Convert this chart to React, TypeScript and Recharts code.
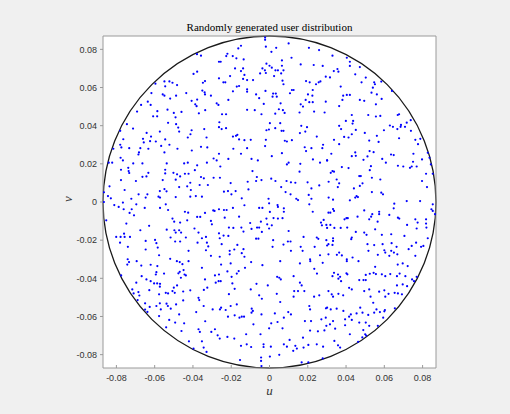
import React from "react";
import {
  ScatterChart,
  Scatter,
  XAxis,
  YAxis,
  CartesianGrid,
  ReferenceArea,
} from "recharts";

const chartTitle = "Randomly generated user distribution";
const cellRadius = 0.087;
const tickValues = [-0.08, -0.06, -0.04, -0.02, 0, 0.02, 0.04, 0.06, 0.08];

// user positions [u, v], upper band
const usersTop: [number, number][] = [
  [-0.0379,0.0775],[-0.0358,0.0767],[-0.0397,0.0671],[-0.0378,0.0683],[-0.0596,0.0620],[-0.0549,0.0632],[-0.0523,0.0632],[-0.0507,0.0625],[-0.0483,0.0613],[-0.0545,0.0606],[-0.0337,0.0634],[-0.0348,0.0625],[-0.0617,0.0571],[-0.0558,0.0564],[-0.0549,0.0557],[-0.0488,0.0557],[-0.0519,0.0542],[-0.0435,0.0571],[-0.0407,0.0530],[-0.0388,0.0512],[-0.0378,0.0537],[-0.0381,0.0502],[-0.0351,0.0584],[-0.0339,0.0575],[-0.0337,0.0564],[-0.0306,0.0557],[-0.0636,0.0526],[-0.0621,0.0509],[-0.0671,0.0509],[-0.0692,0.0474],[-0.0608,0.0449],[-0.0587,0.0449],[-0.0586,0.0476],[-0.0533,0.0484],[-0.0500,0.0467],[-0.0491,0.0444],[-0.0460,0.0472],[-0.0336,0.0481],[-0.0369,0.0465],[-0.0745,0.0408],[-0.0713,0.0385],[-0.0780,0.0373],[-0.0642,0.0362],[-0.0619,0.0343],[-0.0573,0.0369],[-0.0530,0.0415],[-0.0488,0.0408],[-0.0477,0.0390],[-0.0472,0.0369],[-0.0427,0.0338],[-0.0413,0.0355],[-0.0407,0.0376],[-0.0341,0.0382],[-0.0329,0.0338],[-0.0764,0.0329],[-0.0661,0.0331],[-0.0657,0.0312],[-0.0624,0.0319],[-0.0594,0.0317],[-0.0545,0.0328],[-0.0566,0.0294],[-0.0523,0.0300],[-0.0780,0.0300],[-0.0774,0.0286],[-0.0816,0.0279],[-0.0733,0.0282],[-0.0675,0.0282],[-0.0633,0.0279],[-0.0481,0.0279],[-0.0358,0.0289],[-0.0325,0.0286],
  [-0.0023,0.0862],[-0.0023,0.0850],[-0.0163,0.0805],[-0.0149,0.0819],[-0.0220,0.0777],[-0.0226,0.0765],[-0.0192,0.0765],[-0.0264,0.0735],[-0.0255,0.0735],[-0.0173,0.0753],[-0.0135,0.0747],[-0.0019,0.0814],[0.0010,0.0787],[0.0035,0.0808],[0.0100,0.0831],[0.0206,0.0808],[0.0259,0.0796],[0.0115,0.0756],[0.0065,0.0742],[-0.0016,0.0725],[0.0000,0.0714],[0.0012,0.0704],[0.0031,0.0690],[0.0044,0.0690],[0.0024,0.0660],[0.0065,0.0714],[0.0073,0.0690],[0.0061,0.0674],[0.0163,0.0721],[0.0231,0.0718],[0.0278,0.0713],[-0.0037,0.0700],[-0.0024,0.0690],[-0.0019,0.0676],[-0.0049,0.0674],[-0.0138,0.0700],[-0.0149,0.0686],[-0.0131,0.0666],[-0.0180,0.0700],[-0.0206,0.0660],[-0.0264,0.0648],[-0.0241,0.0627],[-0.0231,0.0627],[-0.0138,0.0645],[-0.0117,0.0639],[-0.0086,0.0639],[0.0068,0.0636],[0.0073,0.0617],[0.0117,0.0587],[0.0126,0.0587],[0.0191,0.0634],[0.0210,0.0627],[0.0243,0.0617],[0.0257,0.0627],[0.0266,0.0632],[-0.0171,0.0605],[-0.0159,0.0608],[-0.0191,0.0580],[-0.0117,0.0591],[-0.0117,0.0578],[-0.0070,0.0564],[-0.0021,0.0582],[0.0019,0.0568],[0.0033,0.0568],[0.0016,0.0552],[0.0038,0.0552],[0.0107,0.0570],[0.0226,0.0587],[0.0201,0.0564],[0.0224,0.0557],[0.0189,0.0535],[0.0208,0.0523],[0.0226,0.0523],[0.0175,0.0500],[0.0163,0.0512],[0.0157,0.0469],[-0.0054,0.0544],[-0.0030,0.0514],[0.0058,0.0517],[-0.0276,0.0517],[-0.0267,0.0509],[-0.0215,0.0535],[-0.0117,0.0483],[-0.0077,0.0481],[-0.0042,0.0460],[0.0030,0.0463],[0.0049,0.0486],[0.0070,0.0481],[0.0079,0.0467],[-0.0248,0.0460],[-0.0227,0.0460],[0.0233,0.0474],[0.0288,0.0469],[-0.0262,0.0418],[-0.0264,0.0392],[-0.0250,0.0382],[-0.0227,0.0387],[0.0002,0.0413],[0.0030,0.0387],[0.0056,0.0413],[0.0073,0.0373],[0.0063,0.0373],[-0.0016,0.0376],[-0.0003,0.0380],[-0.0168,0.0352],[-0.0175,0.0347],[-0.0191,0.0343],[-0.0159,0.0328],[-0.0131,0.0324],[-0.0098,0.0326],[-0.0019,0.0326],[0.0080,0.0321],[0.0117,0.0324],[0.0091,0.0317],[0.0159,0.0361],[0.0166,0.0399],[0.0196,0.0392],[0.0187,0.0369],[0.0247,0.0343],[0.0184,0.0287],[0.0219,0.0282],[0.0276,0.0282],[0.0280,0.0300],[-0.0189,0.0279],[-0.0117,0.0282],[-0.0023,0.0293],
  [0.0329,0.0767],[0.0294,0.0657],[0.0316,0.0653],[0.0336,0.0686],[0.0355,0.0697],[0.0360,0.0683],[0.0404,0.0756],[0.0420,0.0735],[0.0420,0.0713],[0.0472,0.0707],[0.0448,0.0669],[0.0503,0.0652],[0.0481,0.0627],[0.0547,0.0627],[0.0551,0.0617],[0.0540,0.0599],[0.0584,0.0631],[0.0372,0.0605],[0.0640,0.0582],[0.0533,0.0573],[0.0561,0.0564],[0.0404,0.0561],[0.0420,0.0561],[0.0385,0.0557],[0.0381,0.0535],[0.0294,0.0526],[0.0472,0.0535],[0.0495,0.0530],[0.0556,0.0512],[0.0586,0.0540],[0.0364,0.0503],[0.0430,0.0456],[0.0516,0.0456],[0.0556,0.0448],[0.0579,0.0451],[0.0670,0.0456],[0.0677,0.0460],[0.0399,0.0425],[0.0437,0.0425],[0.0434,0.0411],[0.0364,0.0399],[0.0374,0.0382],[0.0451,0.0378],[0.0498,0.0362],[0.0561,0.0347],[0.0598,0.0376],[0.0570,0.0315],[0.0629,0.0401],[0.0645,0.0394],[0.0687,0.0404],[0.0685,0.0394],[0.0708,0.0394],[0.0717,0.0416],[0.0738,0.0429],[0.0668,0.0382],[0.0677,0.0334],[0.0739,0.0373],[0.0762,0.0326],[0.0788,0.0331],[0.0776,0.0303],[0.0337,0.0326],[0.0364,0.0303],[0.0390,0.0341],[0.0413,0.0338],[0.0430,0.0355],[0.0521,0.0322],
];

// middle band
const usersMiddle: [number, number][] = [
  [-0.0682,0.0260],[-0.0685,0.0249],[-0.0549,0.0260],[-0.0406,0.0270],[-0.0778,0.0232],[-0.0766,0.0218],[-0.0840,0.0206],[-0.0822,0.0206],[-0.0712,0.0202],[-0.0664,0.0202],[-0.0537,0.0202],[-0.0446,0.0202],[-0.0427,0.0206],[-0.0378,0.0192],[-0.0327,0.0206],[-0.0776,0.0169],[-0.0738,0.0179],[-0.0736,0.0162],[-0.0733,0.0152],[-0.0633,0.0153],[-0.0643,0.0134],[-0.0664,0.0132],[-0.0545,0.0169],[-0.0545,0.0150],[-0.0502,0.0153],[-0.0483,0.0145],[-0.0442,0.0148],[-0.0423,0.0148],[-0.0390,0.0167],[-0.0358,0.0131],[-0.0776,0.0115],[-0.0698,0.0110],[-0.0558,0.0115],[-0.0490,0.0117],[-0.0467,0.0134],[-0.0414,0.0101],[-0.0343,0.0124],[-0.0836,0.0082],[-0.0757,0.0063],[-0.0684,0.0040],[-0.0638,0.0040],[-0.0573,0.0057],[-0.0549,0.0068],[-0.0538,0.0056],[-0.0472,0.0078],[-0.0430,0.0082],[-0.0411,0.0063],[-0.0365,0.0089],[-0.0322,0.0089],[-0.0865,0.0051],[-0.0844,0.0031],[-0.0829,0.0019],[-0.0722,0.0017],[-0.0647,0.0023],[-0.0580,0.0028],[-0.0572,0.0023],[-0.0490,0.0026],[-0.0414,0.0028],[-0.0385,0.0031],[-0.0353,0.0028],[-0.0865,0.0000],[-0.0811,-0.0016],[-0.0788,-0.0026],[-0.0766,-0.0003],[-0.0696,-0.0012],[-0.0652,-0.0031],[-0.0762,-0.0038],[-0.0720,-0.0038],[-0.0731,-0.0057],[-0.0708,-0.0070],[-0.0572,-0.0031],[-0.0542,-0.0012],[-0.0530,-0.0042],[-0.0442,-0.0051],[-0.0425,-0.0056],[-0.0378,-0.0078],[-0.0362,-0.0078],[-0.0337,-0.0057],[-0.0294,-0.0044],[-0.0853,-0.0096],[-0.0748,-0.0113],[-0.0675,-0.0148],[-0.0629,-0.0125],[-0.0537,-0.0145],[-0.0507,-0.0087],[-0.0498,-0.0103],[-0.0467,-0.0108],[-0.0430,-0.0096],[-0.0392,-0.0139],[-0.0497,-0.0148],[-0.0490,-0.0160],[-0.0472,-0.0148],[-0.0462,-0.0160],[-0.0801,-0.0183],[-0.0778,-0.0183],[-0.0760,-0.0166],[-0.0757,-0.0183],[-0.0729,-0.0183],[-0.0781,-0.0213],[-0.0647,-0.0204],[-0.0598,-0.0199],[-0.0591,-0.0216],[-0.0584,-0.0239],[-0.0517,-0.0186],[-0.0493,-0.0207],[-0.0467,-0.0207],[-0.0437,-0.0186],[-0.0371,-0.0160],[-0.0353,-0.0190],[-0.0332,-0.0183],[-0.0327,-0.0213],[-0.0320,-0.0233],[-0.0376,-0.0213],[-0.0740,-0.0235],[-0.0741,-0.0300],[-0.0647,-0.0249],[-0.0577,-0.0279],[-0.0519,-0.0298],[-0.0423,-0.0256],[-0.0332,-0.0253],[-0.0306,-0.0282],[-0.0301,-0.0117],[-0.0306,-0.0099],
  [-0.0149,0.0253],[-0.0264,0.0253],[-0.0292,0.0228],[-0.0276,0.0218],[-0.0215,0.0226],[-0.0257,0.0186],[-0.0094,0.0226],[-0.0061,0.0218],[0.0012,0.0240],[0.0065,0.0256],[0.0091,0.0197],[0.0100,0.0206],[0.0161,0.0200],[0.0191,0.0267],[0.0227,0.0223],[0.0264,0.0206],[0.0301,0.0218],[0.0157,0.0159],[-0.0089,0.0162],[-0.0292,0.0127],[-0.0259,0.0127],[-0.0066,0.0131],[-0.0070,0.0110],[-0.0042,0.0115],[0.0009,0.0122],[0.0031,0.0110],[-0.0114,0.0106],[-0.0203,0.0099],[-0.0238,0.0054],[-0.0217,0.0057],[-0.0199,0.0040],[-0.0177,0.0057],[-0.0110,0.0066],[0.0089,0.0110],[0.0112,0.0103],[0.0135,0.0101],[0.0199,0.0103],[0.0219,0.0071],[0.0260,0.0087],[0.0061,0.0078],[0.0084,0.0052],[0.0110,0.0040],[0.0140,0.0017],[0.0149,0.0010],[0.0205,0.0037],[0.0219,0.0017],[-0.0145,0.0019],[-0.0005,0.0017],[-0.0002,-0.0007],[-0.0054,-0.0031],[-0.0037,-0.0031],[-0.0264,-0.0038],[-0.0238,-0.0042],[-0.0224,-0.0042],[-0.0287,-0.0047],[-0.0191,-0.0031],[-0.0131,-0.0017],[0.0002,-0.0052],[0.0042,-0.0016],[0.0044,-0.0026],[0.0075,-0.0033],[0.0075,-0.0051],[0.0208,-0.0012],[0.0226,-0.0051],[-0.0159,-0.0077],[-0.0234,-0.0082],[-0.0101,-0.0110],[-0.0094,-0.0141],[-0.0045,-0.0103],[-0.0016,-0.0087],[0.0021,-0.0084],[0.0044,-0.0087],[0.0068,-0.0085],[-0.0065,-0.0134],[-0.0054,-0.0134],[-0.0040,-0.0157],[-0.0012,-0.0117],[-0.0002,-0.0139],[0.0012,-0.0122],[0.0283,-0.0094],[0.0269,-0.0108],[0.0274,-0.0122],[0.0301,-0.0136],[-0.0212,-0.0134],[-0.0189,-0.0136],[-0.0147,-0.0134],[-0.0136,-0.0155],[-0.0264,-0.0164],[-0.0240,-0.0176],[-0.0215,-0.0178],[-0.0260,-0.0190],[-0.0070,-0.0192],[-0.0058,-0.0192],[0.0019,-0.0200],[0.0100,-0.0152],[0.0178,-0.0183],[0.0247,-0.0186],[0.0255,-0.0193],[0.0301,-0.0228],[-0.0250,-0.0221],[-0.0168,-0.0225],[-0.0136,-0.0247],[-0.0184,-0.0249],[-0.0145,-0.0268],[-0.0131,-0.0287],[-0.0208,-0.0256],[-0.0208,-0.0274],[-0.0260,-0.0287],[0.0016,-0.0235],[0.0073,-0.0223],[0.0096,-0.0207],[0.0110,-0.0207],[0.0163,-0.0235],[0.0173,-0.0256],[0.0112,-0.0256],[0.0236,-0.0235],[0.0212,-0.0300],[0.0264,-0.0279],
  [0.0323,0.0253],[0.0430,0.0240],[0.0448,0.0260],[0.0451,0.0242],[0.0512,0.0239],[0.0523,0.0267],[0.0544,0.0261],[0.0635,0.0249],[0.0649,0.0246],[0.0752,0.0253],[0.0827,0.0258],[0.0836,0.0232],[0.0491,0.0221],[0.0589,0.0226],[0.0608,0.0206],[0.0671,0.0190],[0.0699,0.0186],[0.0734,0.0179],[0.0743,0.0186],[0.0750,0.0211],[0.0769,0.0186],[0.0797,0.0223],[0.0843,0.0197],[0.0301,0.0218],[0.0329,0.0162],[0.0320,0.0153],[0.0337,0.0159],[0.0378,0.0183],[0.0413,0.0178],[0.0530,0.0188],[0.0524,0.0167],[0.0818,0.0148],[0.0853,0.0148],[0.0351,0.0118],[0.0364,0.0098],[0.0309,0.0106],[0.0357,0.0078],[0.0469,0.0136],[0.0477,0.0136],[0.0486,0.0098],[0.0472,0.0084],[0.0535,0.0127],[0.0579,0.0118],[0.0797,0.0110],[0.0823,0.0078],[0.0441,0.0071],[0.0535,0.0052],[0.0584,0.0049],[0.0593,0.0040],[0.0309,0.0023],[0.0332,0.0012],[0.0420,0.0009],[0.0448,0.0023],[0.0455,0.0031],[0.0462,0.0026],[0.0717,0.0005],[0.0787,0.0005],[0.0652,-0.0009],[0.0649,-0.0033],[0.0853,-0.0012],[0.0846,-0.0038],[0.0853,-0.0047],[0.0865,-0.0064],[0.0332,-0.0037],[0.0337,-0.0047],[0.0308,-0.0056],[0.0318,-0.0056],[0.0495,-0.0044],[0.0573,-0.0051],[0.0573,-0.0064],[0.0537,-0.0064],[0.0521,-0.0091],[0.0531,-0.0077],[0.0626,-0.0068],[0.0671,-0.0082],[0.0678,-0.0087],[0.0392,-0.0091],[0.0402,-0.0085],[0.0409,-0.0085],[0.0460,-0.0077],[0.0762,-0.0091],[0.0818,-0.0091],[0.0297,-0.0120],[0.0318,-0.0120],[0.0339,-0.0136],[0.0372,-0.0136],[0.0406,-0.0134],[0.0451,-0.0157],[0.0495,-0.0160],[0.0552,-0.0143],[0.0565,-0.0103],[0.0719,-0.0120],[0.0774,-0.0108],[0.0769,-0.0139],[0.0818,-0.0113],[0.0820,-0.0134],[0.0507,-0.0172],[0.0587,-0.0172],[0.0636,-0.0169],[0.0705,-0.0178],[0.0332,-0.0190],[0.0297,-0.0200],[0.0332,-0.0204],[0.0430,-0.0186],[0.0427,-0.0195],[0.0329,-0.0225],[0.0308,-0.0221],[0.0512,-0.0221],[0.0547,-0.0226],[0.0591,-0.0221],[0.0638,-0.0216],[0.0664,-0.0235],[0.0636,-0.0256],[0.0600,-0.0253],[0.0605,-0.0265],[0.0626,-0.0282],[0.0650,-0.0265],[0.0668,-0.0274],[0.0517,-0.0256],[0.0566,-0.0277],[0.0727,-0.0247],[0.0743,-0.0230],[0.0766,-0.0213],[0.0792,-0.0235],[0.0804,-0.0230],[0.0827,-0.0190],[0.0762,-0.0282],[0.0364,-0.0265],[0.0352,-0.0277],[0.0378,-0.0280],[0.0434,-0.0291],[0.0404,-0.0300],[0.0308,-0.0274],
];

// lower band
const usersBottom: [number, number][] = [
  [-0.0734,-0.0315],[-0.0743,-0.0328],[-0.0694,-0.0310],[-0.0621,-0.0329],[-0.0586,-0.0336],[-0.0670,-0.0333],[-0.0469,-0.0315],[-0.0484,-0.0310],[-0.0455,-0.0326],[-0.0353,-0.0345],[-0.0423,-0.0310],[-0.0775,-0.0385],[-0.0469,-0.0366],[-0.0476,-0.0374],[-0.0449,-0.0357],[-0.0444,-0.0380],[-0.0591,-0.0368],[-0.0594,-0.0380],[-0.0551,-0.0375],[-0.0668,-0.0389],[-0.0696,-0.0423],[-0.0643,-0.0406],[-0.0621,-0.0415],[-0.0603,-0.0427],[-0.0587,-0.0427],[-0.0572,-0.0429],[-0.0573,-0.0444],[-0.0463,-0.0397],[-0.0437,-0.0385],[-0.0483,-0.0437],[-0.0500,-0.0449],[-0.0507,-0.0467],[-0.0530,-0.0479],[-0.0495,-0.0476],[-0.0451,-0.0469],[-0.0414,-0.0463],[-0.0337,-0.0406],[-0.0325,-0.0449],[-0.0343,-0.0461],[-0.0717,-0.0458],[-0.0710,-0.0479],[-0.0685,-0.0472],[-0.0680,-0.0490],[-0.0689,-0.0514],[-0.0628,-0.0462],[-0.0577,-0.0484],[-0.0542,-0.0476],[-0.0650,-0.0531],[-0.0626,-0.0550],[-0.0650,-0.0564],[-0.0638,-0.0576],[-0.0591,-0.0545],[-0.0573,-0.0531],[-0.0538,-0.0533],[-0.0531,-0.0545],[-0.0568,-0.0563],[-0.0577,-0.0598],[-0.0516,-0.0559],[-0.0488,-0.0537],[-0.0451,-0.0516],[-0.0371,-0.0502],[-0.0367,-0.0514],[-0.0344,-0.0545],[-0.0383,-0.0577],[-0.0336,-0.0625],[-0.0297,-0.0563],[-0.0472,-0.0589],[-0.0446,-0.0636],[-0.0493,-0.0632],[-0.0524,-0.0618],[-0.0540,-0.0657],[-0.0460,-0.0676],[-0.0371,-0.0667],[-0.0364,-0.0681],[-0.0304,-0.0681],[-0.0421,-0.0730],[-0.0397,-0.0768],[-0.0353,-0.0730],[-0.0344,-0.0763],[-0.0329,-0.0786],
  [-0.0253,-0.0328],[-0.0203,-0.0322],[-0.0096,-0.0315],[-0.0037,-0.0331],[0.0056,-0.0310],[0.0159,-0.0322],[0.0213,-0.0310],[0.0278,-0.0319],[-0.0264,-0.0380],[-0.0285,-0.0385],[-0.0281,-0.0423],[-0.0266,-0.0415],[-0.0255,-0.0415],[-0.0220,-0.0364],[-0.0198,-0.0392],[-0.0171,-0.0375],[-0.0161,-0.0362],[-0.0128,-0.0345],[-0.0068,-0.0429],[-0.0009,-0.0437],[0.0040,-0.0392],[0.0051,-0.0397],[0.0059,-0.0406],[0.0126,-0.0389],[0.0159,-0.0423],[0.0168,-0.0437],[0.0182,-0.0467],[0.0248,-0.0375],[0.0234,-0.0350],[0.0129,-0.0467],[0.0149,-0.0467],[-0.0194,-0.0427],[-0.0182,-0.0455],[-0.0212,-0.0483],[-0.0098,-0.0458],[-0.0054,-0.0489],[-0.0040,-0.0507],[0.0038,-0.0481],[0.0056,-0.0524],[0.0126,-0.0496],[0.0233,-0.0496],[0.0260,-0.0489],[-0.0253,-0.0554],[-0.0259,-0.0563],[-0.0229,-0.0566],[-0.0203,-0.0545],[-0.0171,-0.0537],[-0.0093,-0.0559],[-0.0087,-0.0571],[-0.0094,-0.0580],[-0.0042,-0.0589],[0.0028,-0.0584],[0.0098,-0.0577],[0.0112,-0.0589],[0.0208,-0.0545],[0.0212,-0.0563],[0.0295,-0.0557],[-0.0217,-0.0601],[-0.0182,-0.0594],[-0.0157,-0.0606],[-0.0145,-0.0601],[-0.0133,-0.0601],[-0.0084,-0.0641],[0.0009,-0.0636],[0.0042,-0.0629],[0.0075,-0.0606],[0.0185,-0.0624],[0.0217,-0.0624],[0.0271,-0.0615],[-0.0285,-0.0667],[-0.0271,-0.0699],[-0.0260,-0.0716],[-0.0220,-0.0707],[-0.0184,-0.0716],[-0.0122,-0.0693],[-0.0047,-0.0693],[-0.0002,-0.0662],[0.0068,-0.0662],[0.0105,-0.0723],[0.0175,-0.0711],[0.0212,-0.0674],[0.0253,-0.0678],[0.0287,-0.0673],[-0.0149,-0.0754],[-0.0119,-0.0746],[-0.0096,-0.0760],[-0.0031,-0.0746],[-0.0031,-0.0760],[0.0007,-0.0758],[0.0075,-0.0746],[0.0091,-0.0758],[0.0135,-0.0754],[0.0143,-0.0768],[0.0178,-0.0763],[0.0203,-0.0749],[0.0247,-0.0746],[0.0280,-0.0758],[-0.0154,-0.0828],[-0.0044,-0.0815],[-0.0044,-0.0833],[0.0002,-0.0810],[0.0051,-0.0801],[0.0124,-0.0780],[0.0168,-0.0841],[0.0203,-0.0841],[0.0278,-0.0820],[-0.0042,-0.0860],
  [0.0404,-0.0310],[0.0465,-0.0310],[0.0552,-0.0340],[0.0670,-0.0328],[0.0696,-0.0322],[0.0722,-0.0336],[0.0337,-0.0371],[0.0329,-0.0389],[0.0358,-0.0380],[0.0369,-0.0392],[0.0374,-0.0415],[0.0360,-0.0402],[0.0402,-0.0374],[0.0407,-0.0379],[0.0469,-0.0409],[0.0491,-0.0409],[0.0503,-0.0409],[0.0503,-0.0382],[0.0524,-0.0376],[0.0544,-0.0371],[0.0556,-0.0378],[0.0587,-0.0379],[0.0605,-0.0389],[0.0631,-0.0378],[0.0666,-0.0389],[0.0680,-0.0375],[0.0710,-0.0389],[0.0769,-0.0392],[0.0755,-0.0415],[0.0745,-0.0406],[0.0696,-0.0432],[0.0666,-0.0437],[0.0719,-0.0441],[0.0308,-0.0467],[0.0325,-0.0484],[0.0360,-0.0481],[0.0332,-0.0496],[0.0385,-0.0489],[0.0416,-0.0450],[0.0430,-0.0458],[0.0495,-0.0467],[0.0521,-0.0458],[0.0528,-0.0496],[0.0573,-0.0470],[0.0600,-0.0463],[0.0622,-0.0481],[0.0605,-0.0496],[0.0654,-0.0476],[0.0671,-0.0479],[0.0692,-0.0484],[0.0301,-0.0554],[0.0320,-0.0563],[0.0351,-0.0559],[0.0386,-0.0571],[0.0425,-0.0589],[0.0416,-0.0601],[0.0430,-0.0618],[0.0455,-0.0584],[0.0474,-0.0554],[0.0486,-0.0580],[0.0516,-0.0592],[0.0547,-0.0580],[0.0559,-0.0563],[0.0577,-0.0577],[0.0600,-0.0573],[0.0603,-0.0566],[0.0594,-0.0606],[0.0655,-0.0557],[0.0542,-0.0528],[0.0297,-0.0649],[0.0316,-0.0641],[0.0332,-0.0624],[0.0343,-0.0664],[0.0395,-0.0615],[0.0395,-0.0646],[0.0469,-0.0632],[0.0503,-0.0632],[0.0521,-0.0649],[0.0566,-0.0649],[0.0490,-0.0671],[0.0500,-0.0693],[0.0505,-0.0700],[0.0485,-0.0710],[0.0463,-0.0733],[0.0420,-0.0693],[0.0339,-0.0728],[0.0358,-0.0751],[0.0369,-0.0763],[0.0294,-0.0606],
];

const users = [...usersTop, ...usersMiddle, ...usersBottom].map(([u, v]) => ({ u, v }));

const axisColor = "#9a9a9a";
const tickStyle = { fill: "#333", fontSize: 9, fontFamily: "Liberation Sans, Arial, sans-serif" };
const formatTick = (t: number) => (t === 0 ? "0" : t.toFixed(2));

// small MATLAB-like '.' marker
const UserDot = (props: any) => (
  <circle cx={props.cx} cy={props.cy} r={1.1} fill="#0000ff" />
);

// cell boundary: ellipse inscribed in the reference area rect (scaled by the axes)
const CellBoundary = (props: any) => {
  const { x, y, width, height } = props;
  return (
    <ellipse
      cx={x + width / 2}
      cy={y + height / 2}
      rx={width / 2}
      ry={height / 2}
      fill="none"
      stroke="#1a1a1a"
      strokeWidth={1.3}
    />
  );
};

export default function App() {
  return (
    <div
      style={{
        position: "absolute",
        left: 0,
        top: 0,
        width: 510,
        height: 414,
        background: "#f0f0f0",
      }}
    >
      <div
        style={{
          position: "absolute",
          top: 21,
          left: 103,
          width: 333,
          textAlign: "center",
          fontFamily: "Liberation Serif, serif",
          fontSize: 11,
          color: "#000",
          lineHeight: "12px",
        }}
      >
        {chartTitle}
      </div>
      <ScatterChart
        width={510}
        height={414}
        margin={{ top: 35, right: 73, bottom: 16, left: 63 }}
      >
        <CartesianGrid xAxisId="b" yAxisId="l" fill="#ffffff" horizontal={false} vertical={false} />
        <XAxis
          xAxisId="b"
          type="number"
          dataKey="u"
          domain={[-cellRadius, cellRadius]}
          ticks={tickValues}
          allowDataOverflow
          tickFormatter={formatTick}
          height={30}
          tickSize={-3}
          tickMargin={10}
          stroke={axisColor}
          tick={tickStyle}
          label={{
            value: "u",
            position: "insideBottom",
            offset: 3,
            style: { fontFamily: "Liberation Serif, serif", fontStyle: "italic", fontSize: 13, fill: "#333" },
          }}
        />
        <XAxis
          xAxisId="t"
          orientation="top"
          type="number"
          domain={[-cellRadius, cellRadius]}
          ticks={tickValues}
          allowDataOverflow
          height={1}
          tickSize={-3}
          tick={false}
          stroke={axisColor}
        />
        <YAxis
          yAxisId="l"
          type="number"
          dataKey="v"
          domain={[-cellRadius, cellRadius]}
          ticks={tickValues}
          allowDataOverflow
          tickFormatter={formatTick}
          width={40}
          tickSize={3}
          tickMargin={3}
          stroke={axisColor}
          tick={tickStyle}
          label={{
            value: "v",
            angle: -90,
            position: "insideLeft",
            offset: 4,
            style: { fontFamily: "Liberation Serif, serif", fontStyle: "italic", fontSize: 13, fill: "#333" },
          }}
        />
        <YAxis
          yAxisId="r"
          orientation="right"
          type="number"
          domain={[-cellRadius, cellRadius]}
          ticks={tickValues}
          allowDataOverflow
          width={1}
          tickSize={-3}
          tick={false}
          stroke={axisColor}
        />
        <ReferenceArea
          xAxisId="b"
          yAxisId="l"
          x1={-cellRadius}
          x2={cellRadius}
          y1={-cellRadius}
          y2={cellRadius}
          ifOverflow="visible"
          shape={CellBoundary}
        />
        <Scatter
          xAxisId="b"
          yAxisId="l"
          data={users}
          shape={UserDot}
          isAnimationActive={false}
        />
      </ScatterChart>
    </div>
  );
}
